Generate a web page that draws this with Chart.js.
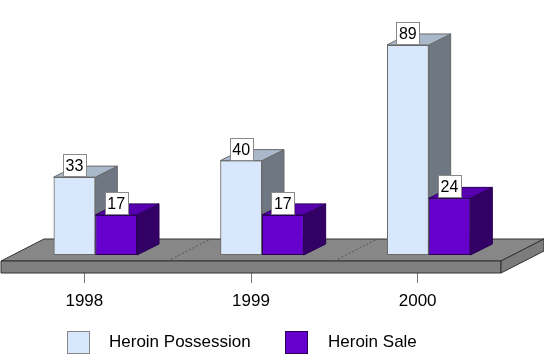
<!DOCTYPE html>
<html>
<head>
<meta charset="utf-8">
<script src="https://cdn.jsdelivr.net/npm/chart.js@4.4.1/dist/chart.umd.min.js"></script>
<style>
  html, body { margin: 0; padding: 0; background: #fff; }
</style>
</head>
<body>
<canvas id="chart" width="544" height="363"></canvas>
<script>
const years = ['1998', '1999', '2000'];
const possession = [33, 40, 89];
const sale = [17, 17, 24];
const seriesNames = ['Heroin Possession', 'Heroin Sale'];

const FONT = "'Liberation Sans', Arial, sans-serif";

// 3D look: bar depth, floor depth, and where bar fronts sit on the floor
const DEPTH = { x: 22, y: -11 };
const FLOOR = { x: 43, y: -22, thick: 12 };
const SHIFT = { x: 11, y: -18 };

const faces = [
  { front: '#D8E7FC', top: '#A9B9CB', side: '#6E7782', line: '#6a6a6a' },
  { front: '#6600CC', top: '#5700B0', side: '#330066', line: '#2a0055' }
];

function poly(ctx, pts, fill, stroke) {
  ctx.beginPath();
  ctx.moveTo(pts[0][0], pts[0][1]);
  for (let i = 1; i < pts.length; i++) ctx.lineTo(pts[i][0], pts[i][1]);
  ctx.closePath();
  ctx.fillStyle = fill;
  ctx.fill();
  ctx.lineWidth = 1;
  ctx.strokeStyle = stroke;
  ctx.stroke();
}

const threeD = {
  id: 'threeD',
  beforeDatasetsDraw(chart) {
    const ctx = chart.ctx, a = chart.chartArea, xs = chart.scales.x;
    const L = a.left, R = a.right, B = a.bottom, T = B - FLOOR.thick;
    ctx.save();
    poly(ctx, [[L, T], [R, T], [R + FLOOR.x, T + FLOOR.y], [L + FLOOR.x, T + FLOOR.y]], '#878787', '#333');
    poly(ctx, [[L, T], [R, T], [R, B], [L, B]], '#808080', '#333');
    poly(ctx, [[R, T], [R + FLOOR.x, T + FLOOR.y], [R + FLOOR.x, B + FLOOR.y], [R, B]], '#7c7c7c', '#333');
    // dotted lines between the years
    ctx.setLineDash([2, 2]);
    ctx.strokeStyle = '#555';
    for (let i = 0; i < years.length - 1; i++) {
      const x = (xs.getPixelForValue(i) + xs.getPixelForValue(i + 1)) / 2;
      ctx.beginPath();
      ctx.moveTo(x, T);
      ctx.lineTo(x + FLOOR.x, T + FLOOR.y);
      ctx.stroke();
    }
    ctx.restore();
    ctx.save();
    ctx.translate(SHIFT.x, SHIFT.y);
  },
  afterDatasetsDraw(chart) {
    const ctx = chart.ctx;
    // Chart.js draws datasets last-to-first, so redo each bar left to right with its faces
    chart.data.datasets.forEach((ds, di) => {
      const f = faces[di];
      chart.getDatasetMeta(di).data.forEach(bar => {
        bar.draw(ctx);
        const { x, y, base, width } = bar.getProps(['x', 'y', 'base', 'width'], true);
        const l = x - width / 2, r = x + width / 2;
        poly(ctx, [[r, y], [r + DEPTH.x, y + DEPTH.y], [r + DEPTH.x, base + DEPTH.y], [r, base]], f.side, f.line);
        poly(ctx, [[l, y], [r, y], [r + DEPTH.x, y + DEPTH.y], [l + DEPTH.x, y + DEPTH.y]], f.top, f.line);
      });
    });
    // value boxes
    ctx.font = '16px ' + FONT;
    ctx.textAlign = 'center';
    ctx.textBaseline = 'middle';
    chart.data.datasets.forEach((ds, di) => {
      chart.getDatasetMeta(di).data.forEach((bar, i) => {
        const { x, y } = bar.getProps(['x', 'y'], true);
        const txt = String(ds.data[i]);
        const w = Math.round(ctx.measureText(txt).width) + 5, h = 22;
        const bx = Math.round(x - w / 2) + 0.5, by = Math.round(y - 1 - h) + 0.5;
        ctx.fillStyle = '#fff';
        ctx.fillRect(bx, by, w, h);
        ctx.strokeStyle = '#8a8a8a';
        ctx.lineWidth = 1;
        ctx.strokeRect(bx, by, w, h);
        ctx.fillStyle = '#000';
        ctx.fillText(txt, x, by + h / 2 + 1);
      });
    });
    ctx.restore();
  },
  afterDraw(chart) {
    // legend row under the axis
    const ctx = chart.ctx;
    const items = [{ x: 67, tx: 109 }, { x: 285, tx: 328 }];
    ctx.save();
    ctx.font = '17px ' + FONT;
    ctx.textAlign = 'left';
    ctx.textBaseline = 'middle';
    items.forEach((it, i) => {
      ctx.fillStyle = faces[i].front;
      ctx.fillRect(it.x + 0.5, 331.5, 22, 22);
      ctx.strokeStyle = i === 0 ? '#888' : '#2a0055';
      ctx.strokeRect(it.x + 0.5, 331.5, 22, 22);
      ctx.fillStyle = '#000';
      ctx.fillText(seriesNames[i], it.tx, 342);
    });
    ctx.restore();
  }
};

new Chart(document.getElementById('chart'), {
  type: 'bar',
  data: {
    labels: years,
    datasets: [
      { label: seriesNames[0], data: possession, backgroundColor: faces[0].front, borderColor: faces[0].line, borderWidth: 1, borderSkipped: false },
      { label: seriesNames[1], data: sale, backgroundColor: faces[1].front, borderColor: faces[1].line, borderWidth: 1, borderSkipped: false }
    ]
  },
  options: {
    responsive: false,
    animation: false,
    devicePixelRatio: 1,
    clip: false,
    categoryPercentage: 0.5,
    barPercentage: 1,
    layout: { padding: { left: 1, right: 43, top: 37, bottom: 0 } },
    plugins: { legend: { display: false }, tooltip: { enabled: false } },
    scales: {
      x: {
        grid: { offset: false, drawOnChartArea: false, drawTicks: true, tickLength: 10, color: '#777' },
        border: { display: false },
        ticks: { color: '#000', padding: 8, font: { family: FONT, size: 17 } },
        afterFit(scale) { scale.height = 90; }
      },
      y: { display: false, min: 0, max: 100 }
    }
  },
  plugins: [threeD]
});
</script>
</body>
</html>
